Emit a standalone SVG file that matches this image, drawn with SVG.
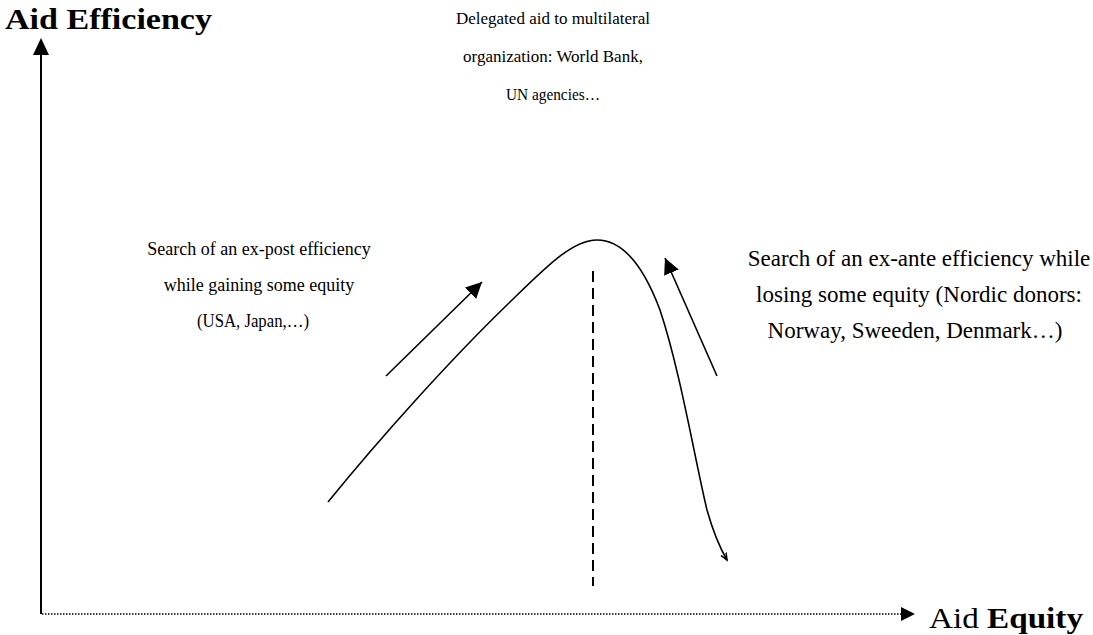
<svg xmlns="http://www.w3.org/2000/svg" width="1093" height="635" viewBox="0 0 1093 635">
<style>
.t{font-family:"Liberation Serif","Times New Roman",serif;fill:#000;text-anchor:middle}
.top{font-size:17px}
.lf{font-size:18px}
.rt{font-size:23px}
.ax{font-family:"Liberation Serif","Times New Roman",serif;font-size:30px;fill:#000}
.b{font-weight:bold}
.ln{fill:none;stroke:#000}
</style>
<defs>
<marker id="ah" markerUnits="userSpaceOnUse" markerWidth="20" markerHeight="20" refX="16" refY="8" orient="auto">
<path d="M0,0 L16,8 L0,16 Z" fill="#000"/>
</marker>
<marker id="sm" markerUnits="userSpaceOnUse" markerWidth="10" markerHeight="10" refX="7" refY="4" orient="auto">
<path d="M0,1 L7,4 L0,7" fill="none" stroke="#000" stroke-width="1.5"/>
</marker>
</defs>
<rect width="1093" height="635" fill="#fff"/>
<g id="axes">
<line class="ln" x1="41" y1="614" x2="41" y2="54" stroke-width="2"/>
<path d="M41,38 L33,55 L49,55 Z" fill="#000"/>
<line class="ln" x1="42" y1="614" x2="901" y2="614" stroke-width="1.4" stroke-dasharray="1.5 1.5"/>
<path d="M915,614 L901,607 L901,621 Z" fill="#000"/>
</g>
<g id="axis-labels">
<text class="ax b" x="5" y="29" textLength="207" lengthAdjust="spacingAndGlyphs">Aid Efficiency</text>
<text class="ax" x="929" y="628" textLength="154" lengthAdjust="spacingAndGlyphs">Aid <tspan class="b">Equity</tspan></text>
</g>
<g id="connectors">
<path id="curve" class="ln" stroke-width="1.6" d="M328,502 C380,438 450,360 510,302 C545,268 572,240 597,240 C625,240 645,270 660,310 C680,370 695,460 707,510 C714,535 720,548 727,560" marker-end="url(#sm)"/>
<line class="ln" x1="593" y1="271" x2="593" y2="586" stroke-width="2" stroke-dasharray="11 6"/>
<line class="ln" x1="386" y1="376" x2="482" y2="282" stroke-width="1.6" marker-end="url(#ah)"/>
<line class="ln" x1="717" y1="376" x2="665" y2="258" stroke-width="1.6" marker-end="url(#ah)"/>
</g>
<g id="top-label">
<text class="t top" x="553" y="24">Delegated aid to multilateral</text>
<text class="t top" x="553" y="62">organization: World Bank,</text>
<text class="t top" x="553" y="100" textLength="94" lengthAdjust="spacingAndGlyphs">UN agencies…</text>
</g>
<g id="left-label">
<text class="t lf" x="259" y="255">Search of an ex-post efficiency</text>
<text class="t lf" x="259" y="291">while gaining some equity</text>
<text class="t lf" x="253" y="327" textLength="112" lengthAdjust="spacingAndGlyphs">(USA, Japan,…)</text>
</g>
<g id="right-label">
<text class="t rt" x="919" y="266">Search of an ex-ante efficiency while</text>
<text class="t rt" x="919" y="302">losing some equity (Nordic donors:</text>
<text class="t rt" x="915" y="338">Norway, Sweeden, Denmark…)</text>
</g>
</svg>
